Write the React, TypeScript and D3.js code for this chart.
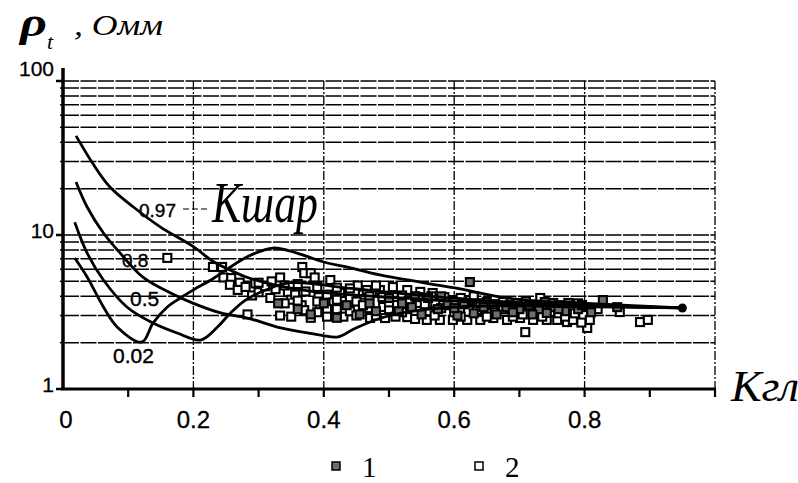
import React from 'react';
import * as d3 from 'd3';

// Kгл axis and ρt (log) axis
const xLabels = [0, 0.2, 0.4, 0.6, 0.8];
const xTickMarks = [0.1, 0.2, 0.3, 0.4, 0.5, 0.6, 0.7, 0.8, 0.9, 1.0];
const xGrid = [0.2, 0.4, 0.6, 0.8, 1.0];
const yLabels = [1, 10, 100];

// model curves for Kшар = 0.97, 0.8, 0.5, 0.02  [Kгл, ρt]
const curve097 = [[0.02, 44], [0.046, 29], [0.072, 20.5], [0.108, 15.2], [0.149, 11.3], [0.2, 8.4], [0.231, 6.7], [0.257, 5.9], [0.283, 5.3], [0.365, 4.4], [0.518, 3.9], [0.672, 3.6], [0.826, 3.45], [0.95, 3.36]];
const curve08 = [[0.02, 22.1], [0.037, 15.2], [0.062, 10.3], [0.088, 7.6], [0.123, 5.3], [0.165, 4.2], [0.2, 3.6], [0.242, 3.12], [0.283, 2.89], [0.334, 2.49], [0.395, 2.24], [0.422, 2.18], [0.446, 2.45], [0.488, 2.89], [0.549, 3.26], [0.642, 3.46], [0.795, 3.42], [0.95, 3.36]];
const curve05 = [[0.018, 12.1], [0.037, 7.64], [0.062, 5.1], [0.098, 3.41], [0.138, 2.68], [0.175, 2.31], [0.211, 2.08], [0.237, 2.53], [0.257, 3.12], [0.28, 3.78], [0.311, 4.39], [0.349, 4.9], [0.442, 4.5], [0.595, 3.9], [0.749, 3.55], [0.95, 3.36]];
const curve002 = [[0.018, 7.09], [0.037, 5.34], [0.062, 3.41], [0.083, 2.53], [0.121, 2.02], [0.138, 2.68], [0.16, 3.41], [0.18, 3.9], [0.2, 4.4], [0.23, 5.2], [0.252, 6.0], [0.282, 7.2], [0.322, 8.23], [0.36, 7.6], [0.4, 6.68], [0.435, 6.2], [0.486, 5.5], [0.601, 4.53], [0.69, 3.85], [0.804, 3.6], [0.95, 3.36]];
const curves = [curve097, curve08, curve05, curve002];
const endPoint = [0.95, 3.36];

// measured samples: 1 (filled squares), 2 (open squares)
const series1 = [[0.624, 4.95], [0.36, 3.3], [0.38, 3.05], [0.4, 3.6], [0.435, 3.5], [0.455, 3.05], [0.47, 3.6], [0.48, 3.2], [0.5, 3.9], [0.515, 3.2], [0.535, 3.4], [0.55, 3.05], [0.56, 3.9], [0.575, 3.3], [0.59, 3.5], [0.605, 3.0], [0.615, 3.55], [0.63, 3.1], [0.645, 3.4], [0.665, 3.05], [0.68, 3.4], [0.7, 3.3], [0.715, 3.5], [0.73, 3.3], [0.75, 3.4], [0.77, 3.2], [0.79, 3.3], [0.828, 3.78], [0.775, 3.62], [0.796, 3.51], [0.739, 3.67], [0.742, 3.12], [0.58, 4.0], [0.54, 4.0],
	[0.33, 3.6], [0.42, 2.9], [0.52, 3.6], [0.6, 3.35], [0.66, 3.55], [0.69, 3.15], [0.72, 3.05], [0.76, 3.3], [0.81, 3.15], [0.85, 3.4]];
const series2 = [[0.16, 7.1], [0.23, 6.2], [0.244, 6.2], [0.246, 5.3], [0.258, 5.25], [0.256, 4.75], [0.271, 4.9], [0.268, 4.4], [0.28, 4.6], [0.283, 3.05], [0.29, 4.05], [0.295, 4.85], [0.3, 4.25], [0.31, 4.65], [0.318, 3.9], [0.326, 4.45], [0.333, 5.3], [0.333, 3.0], [0.345, 4.25], [0.35, 3.8], [0.356, 4.1], [0.366, 3.5], [0.367, 6.2], [0.37, 5.65], [0.372, 4.3], [0.38, 5.65], [0.386, 5.3], [0.392, 3.95], [0.394, 3.45], [0.405, 4.1], [0.41, 5.1], [0.415, 3.65], [0.42, 3.3], [0.425, 4.2], [0.43, 2.95], [0.44, 3.85], [0.448, 3.3], [0.452, 4.7], [0.46, 4.1], [0.466, 4.39], [0.471, 2.89], [0.486, 4.39], [0.491, 3.41], [0.494, 2.89], [0.506, 4.59], [0.512, 3.51], [0.528, 4.39], [0.528, 2.93], [0.543, 3.62], [0.548, 4.27], [0.558, 2.81], [0.567, 4.2], [0.571, 3.62], [0.578, 2.81], [0.598, 2.81], [0.598, 3.78], [0.609, 3.26], [0.62, 2.81], [0.624, 3.78], [0.635, 3.26], [0.64, 2.81], [0.65, 3.67], [0.66, 2.89], [0.66, 3.26], [0.675, 3.67], [0.681, 2.81], [0.69, 3.16], [0.696, 3.62], [0.701, 2.89], [0.709, 2.34], [0.721, 2.81], [0.721, 3.16], [0.732, 3.9], [0.742, 2.81], [0.747, 3.16], [0.752, 3.62], [0.758, 2.81], [0.773, 2.72], [0.782, 2.81], [0.798, 3.02], [0.804, 2.49], [0.808, 2.81], [0.854, 3.16], [0.885, 2.72], [0.897, 2.81],
	[0.47, 4.0], [0.49, 3.95], [0.52, 4.05], [0.545, 3.95], [0.565, 4.0], [0.585, 3.95], [0.61, 3.9], [0.63, 4.0],
	[0.37, 3.25], [0.39, 3.15], [0.405, 3.3], [0.44, 3.2], [0.47, 3.35], [0.5, 3.3], [0.52, 3.15], [0.56, 3.2], [0.58, 3.35], [0.6, 3.15], [0.65, 3.1], [0.675, 3.3], [0.705, 3.05], [0.73, 3.25], [0.76, 3.1], [0.785, 3.1], [0.82, 3.3],
	[0.35, 2.95], [0.38, 2.9], [0.405, 2.95], [0.45, 3.0], [0.48, 3.0], [0.51, 2.95], [0.54, 2.85], [0.57, 3.0], [0.61, 2.95], [0.65, 2.95], [0.69, 2.95], [0.735, 2.95], [0.77, 2.95], [0.795, 2.7],
	[0.34, 3.6], [0.36, 3.75], [0.39, 3.7], [0.42, 3.8], [0.45, 3.7], [0.46, 3.5], [0.5, 3.65], [0.53, 3.75], [0.555, 3.55], [0.6, 3.65], [0.64, 3.6], [0.685, 3.5], [0.71, 3.7], [0.76, 3.5], [0.79, 3.6],
	[0.3, 4.9], [0.32, 5.0], [0.34, 4.7], [0.36, 4.8], [0.39, 4.6], [0.42, 4.55], [0.44, 4.5], [0.48, 4.7]];

const W = 798;
const H = 483;
const SANS = "'Liberation Sans', Arial, sans-serif";
const SERIF = "'Liberation Serif', 'Times New Roman', serif";

const App = () => {
	const x = d3.scaleLinear().domain([0, 1]).range([63, 715]);
	const y = d3.scaleLog().domain([1, 100]).range([389, 81]);
	const line = d3.line<number[]>()
		.x(d => x(d[0]))
		.y(d => y(d[1]))
		.curve(d3.curveCatmullRom.alpha(0.5));
	const gridValues = y.ticks().filter(v => v > 1);
	const sq = 8;

	return (
		<svg width={W} height={H} style={{ position: 'absolute', left: 0, top: 0, background: '#fff' }}>
			{/* grid */}
			<g stroke='#000' fill='none'>
				{gridValues.map(v => (
					<line key={'h' + v} x1={x(0)} x2={x(1)} y1={y(v)} y2={y(v)} strokeWidth={1.5} strokeDasharray='16,1.5' />
				))}
				{xGrid.map(v => (
					<line key={'v' + v} x1={x(v)} x2={x(v)} y1={y(100)} y2={y(1)} strokeWidth={1.3} strokeDasharray='9,2,2,2' />
				))}
				{gridValues.map(v => (
					<line key={'yt' + v} x1={x(0) - 3} x2={x(0)} y1={y(v)} y2={y(v)} strokeWidth={1.5} />
				))}
			</g>

			{/* axes */}
			<g stroke='#000'>
				<line x1={x(0)} x2={x(0)} y1={68} y2={y(1) + 1} strokeWidth={3.5} />
				<line x1={x(0) - 2} x2={x(1) + 1} y1={y(1)} y2={y(1)} strokeWidth={3} />
				{yLabels.map(v => (
					<line key={'yl' + v} x1={x(0) - 7} x2={x(0)} y1={y(v)} y2={y(v)} strokeWidth={2.5} />
				))}
				{xTickMarks.map(v => (
					<line key={'xt' + v} x1={x(v)} x2={x(v)} y1={y(1)} y2={y(1) + 8} strokeWidth={2.2} />
				))}
			</g>

			{/* scatter */}
			<g strokeWidth={2.1}>
				{series2.map((d, i) => (
					<rect key={'b' + i} x={x(d[0]) - sq / 2} y={y(d[1]) - sq / 2} width={sq} height={sq} fill='#fff' stroke='#000' />
				))}
				{series1.map((d, i) => (
					<rect key={'a' + i} x={x(d[0]) - sq / 2} y={y(d[1]) - sq / 2} width={sq} height={sq} fill='#6e6e6e' stroke='#000' />
				))}
			</g>

			{/* curves */}
			<g fill='none' stroke='#000' strokeWidth={2.8} strokeLinejoin='round'>
				{curves.map((c, i) => <path key={i} d={line(c) || ''} />)}
			</g>
			<circle cx={x(endPoint[0])} cy={y(endPoint[1])} r={4.5} fill='#000' />

			{/* curve labels */}
			<g fontFamily={SANS} fill='#000' stroke='#000' strokeWidth={0.4}>
				<text x={139} y={217} fontSize={19}>0.97</text>
				<text x={122} y={267} fontSize={19}>0.8</text>
				<text x={130} y={306} fontSize={21}>0.5</text>
				<text x={113} y={363} fontSize={21}>0.02</text>
			</g>
			<line x1={183} x2={208} y1={209} y2={209} stroke='#000' strokeWidth={1.2} strokeDasharray='6,3' />
			<text x={212} y={222} fontFamily={SERIF} fontStyle='italic' fontSize={56} textLength={106} lengthAdjust='spacingAndGlyphs'>Кшар</text>

			{/* tick labels */}
			<g fontFamily={SANS} fill='#000' stroke='#000' strokeWidth={0.3}>
				{yLabels.map(v => (
					<text key={'ylab' + v} x={54} y={v === 100 ? y(v) - 5 : y(v) + 3} fontSize={21} textAnchor='end'>{v}</text>
				))}
				{xLabels.map(v => (
					<text key={'xlab' + v} x={x(v) + (v === 0 ? 3 : 0)} y={428} fontSize={24} textAnchor='middle'>{v === 0 ? '0' : v.toFixed(1)}</text>
				))}
			</g>

			{/* axis titles */}
			<g fontFamily={SERIF} fontStyle='italic' fill='#000'>
				<text x={20} y={36} fontSize={40} fontWeight='bold' textLength={27} lengthAdjust='spacingAndGlyphs'>ρ</text>
				<text x={47} y={49} fontSize={22}>t</text>
				<text x={74} y={35} fontSize={30} textLength={89} lengthAdjust='spacingAndGlyphs'>, Омм</text>
				<text x={731} y={401} fontSize={44} textLength={68} lengthAdjust='spacingAndGlyphs'>Кгл</text>
			</g>

			{/* legend */}
			<rect x={332} y={462} width={8} height={8} fill='#6e6e6e' stroke='#000' strokeWidth={1.5} />
			<text x={362} y={477} fontFamily={SERIF} fontSize={29}>1</text>
			<rect x={475} y={462} width={8} height={8} fill='#fff' stroke='#000' strokeWidth={1.5} />
			<text x={505} y={477} fontFamily={SERIF} fontSize={29}>2</text>
		</svg>
	);
};

export default App;
